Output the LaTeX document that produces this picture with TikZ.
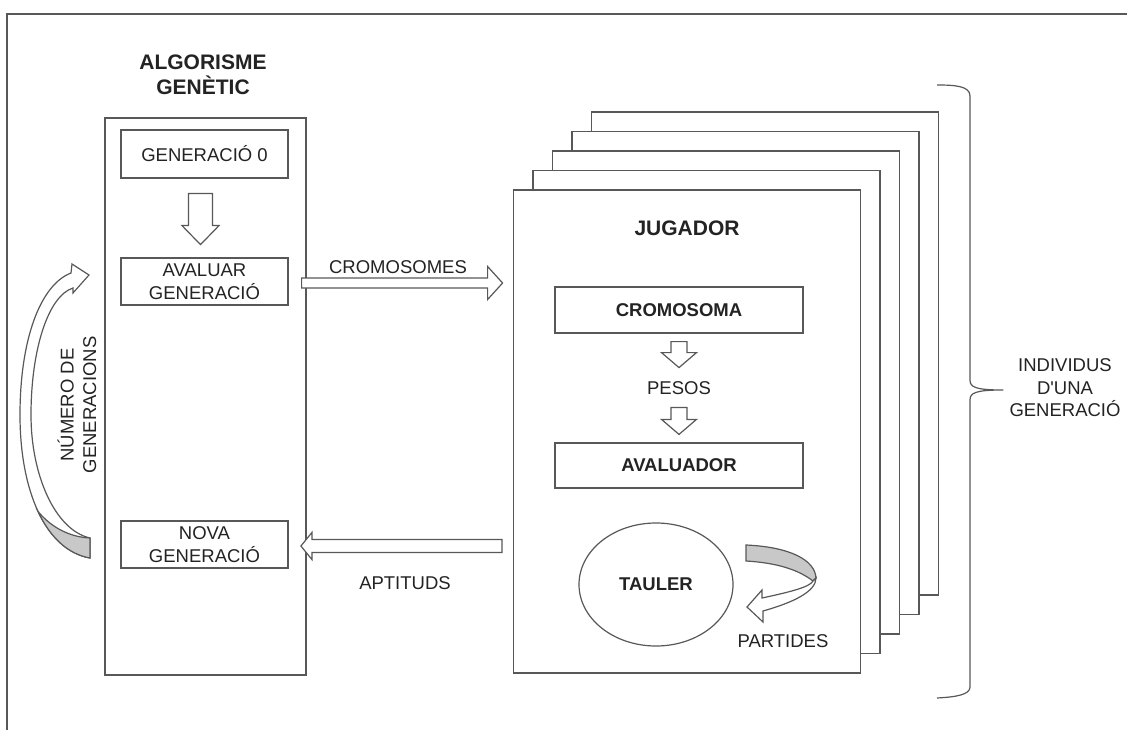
\documentclass[tikz,border=0pt]{standalone}
\usepackage{fontspec}
\setmainfont{Liberation Sans}
\usetikzlibrary{calc,shapes.geometric}

\definecolor{ln}{RGB}{88,88,88}
\definecolor{tx}{RGB}{35,35,35}
\definecolor{shade}{RGB}{200,200,200}

\tikzset{
  every node/.style={text=tx, font=\fontsize{18.5}{22.5}\selectfont},
  outline/.style={draw=ln, line width=1.2pt, line join=miter},
  box/.style={outline, fill=white, rectangle, inner sep=0pt, align=center},
  sheet/.style={box, minimum width=347pt, minimum height=483pt},
  heading/.style={font=\fontsize{21}{25}\selectfont\bfseries, align=center},
  strong/.style={font=\fontsize{18.5}{22.5}\selectfont\bfseries},
  caption/.style={align=center, inner sep=0pt},
  blockarrow/.style={outline, fill=white},
  underside/.style={outline, fill=shade},
}

% block arrow: start, direction angle, length, shaft half width, head half width, head length
\newcommand\blockarrow[6]{%
  \draw[blockarrow, shift={(#1)}, rotate=#2]
    (0,-#4) -- ({#3-#6},-#4) -- ({#3-#6},-#5) -- (#3,0) -- ({#3-#6},#5)
    -- ({#3-#6},#4) -- (0,#4) -- cycle;}

\begin{document}
\begin{tikzpicture}[x=1pt, y=-1pt]
\fill[white] (0,0) rectangle (1127,730);
\useasboundingbox (0,0) rectangle (1127,730);

% page frame
\draw[outline] (7,730) -- (7,14) -- (1127,14);

% genetic algorithm column
\node[heading] (title) at (203,75) {ALGORISME\\GENÈTIC};
\node[box, minimum width=201pt, minimum height=557pt] (algo) at (205.5,396.5) {};
\node[box, minimum width=167pt, minimum height=48pt] (gen0) at (204.5,154) {GENERACIÓ 0};
\node[box, minimum width=167pt, minimum height=47pt] (aval) at (204.5,281.5) {AVALUAR\\GENERACIÓ};
\node[box, minimum width=167pt, minimum height=47pt] (nova) at (204.5,544.5) {NOVA\\GENERACIÓ};

\coordinate (a1) at ($(gen0.south)+(-4,15)$);
\blockarrow{a1}{-90}{51}{12}{18.5}{19}

% loop over generations
\draw[blockarrow] (90,538) -- (90,558)
  .. controls (45,550) and (20,490) .. (20,415)
  .. controls (20,340) and (40,285) .. (71,273)
  -- (72,264) -- (89,275) -- (73,293) -- (73,288)
  .. controls (48,296) and (31,350) .. (31,415)
  .. controls (31,475) and (55,530) .. (90,538) -- cycle;
\draw[underside] (90,558) .. controls (67.5,554) and (50,537) .. (38.1,511.6)
  .. controls (52,528) and (70,537) .. (90,538) -- cycle;
\node[caption, rotate=90] (loop) at (77,405) {NÚMERO DE\\GENERACIONS};

% stack of players
\node[sheet] (s4) at (765,353.5) {};
\node[sheet] (s3) at (745.5,373) {};
\node[sheet] (s2) at (726,392.5) {};
\node[sheet] (s1) at (706.5,412) {};
\node[sheet] (s0) at (687,431.5) {};

\node[heading] (jug) at (687,228) {JUGADOR};
\node[box, strong, minimum width=248pt, minimum height=46pt] (crom) at (679,310) {CROMOSOMA};
\node[caption] (pesos) at (679,388) {PESOS};
\node[box, strong, minimum width=248pt, minimum height=45pt] (avaluador) at (679,465.5) {AVALUADOR};
\node[outline, ellipse, strong, inner sep=0pt, minimum width=154pt, minimum height=123pt] (tauler) at (656,584.5) {TAULER};
\node[caption] (partides) at (783,641) {PARTIDES};

\coordinate (a4) at ($(crom.south)+(0,8)$);
\blockarrow{a4}{-90}{26}{8}{17.5}{15}
\coordinate (a5) at ($(avaluador.north)+(0,-35)$);
\blockarrow{a5}{-90}{27}{8}{17.5}{15}

% games played on the board
\draw[underside] (746,545) .. controls (790,547) and (815,560) .. (816,578)
  -- (813,581) .. controls (800,571) and (780,563) .. (746,561) -- cycle;
\draw[blockarrow] (816,578) .. controls (816,591) and (795,602) .. (763,611)
  -- (763,622) -- (747,607) -- (762,590) -- (762,598)
  .. controls (790,592) and (810,587) .. (813,581) -- cycle;

% exchange between algorithm and players
\coordinate (a2) at ($(algo.east |- aval.center)+(-5,1.5)$);
\blockarrow{a2}{0}{201}{5}{16.5}{15}
\node[caption] (lblcrom) at (398,267) {CROMOSOMES};

\coordinate (a3) at ($(s0.west |- nova.center)+(-11,1.5)$);
\blockarrow{a3}{180}{201}{6.5}{13.5}{11}
\node[caption] (lblapt) at (405,583) {APTITUDS};

% brace over the generation
\draw[outline, line join=round] (937,85) .. controls (955,85) and (970,86) .. (970,96)
  -- (970,380) .. controls (970,387) and (975,390) .. (1003,390)
  .. controls (975,390) and (970,393) .. (970,400)
  -- (970,687) .. controls (970,695) and (955,697) .. (937,698);
\node[caption] (indiv) at (1065,388) {INDIVIDUS\\D\textquotesingle UNA\\GENERACIÓ};
\end{tikzpicture}
\end{document}
